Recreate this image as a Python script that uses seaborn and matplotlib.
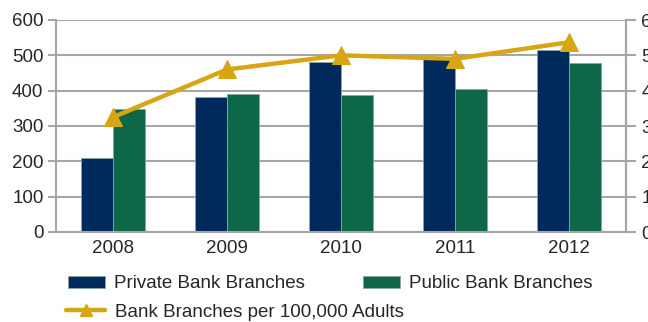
import matplotlib
matplotlib.use("Agg")
import matplotlib.pyplot as plt
from matplotlib.lines import Line2D
import numpy as np
import pandas as pd
import seaborn as sns

# data
years = ["2008", "2009", "2010", "2011", "2012"]
private_branches = [210, 382, 482, 490, 515]
public_branches = [347, 390, 388, 404, 479]
per_100k_adults = [3.25, 4.6, 5.0, 4.9, 5.37]

navy = "#002A5C"
green = "#0E6847"
gold = "#D8A515"
grid_gray = "#A6A6A6"

sns.set_style("white")
plt.rcParams["font.family"] = ["Liberation Sans", "DejaVu Sans"]
plt.rcParams["font.size"] = 13

df = pd.DataFrame({
    "year": years * 2,
    "branches": private_branches + public_branches,
    "series": ["Private Bank Branches"] * 5 + ["Public Bank Branches"] * 5,
})

fig = plt.figure(figsize=(6.48, 3.22), dpi=100)
ax = fig.add_axes([56 / 648, 1 - 232 / 322, (626 - 56) / 648, (232 - 20) / 322])

sns.barplot(data=df, x="year", y="branches", hue="series",
            palette=[navy, green], saturation=1, width=0.57, gap=0, ax=ax,
            edgecolor="#8CA59C", linewidth=0.6, legend=True)

ax.set_ylim(0, 600)
ax.set_yticks(range(0, 601, 100))
ax.set_xlim(-0.5, 4.5)
ax.set_xlabel("")
ax.set_ylabel("")
ax.yaxis.grid(True, color=grid_gray, linewidth=1.5)
ax.set_axisbelow(True)
ax.spines["top"].set_visible(False)
for side in ["left", "right", "bottom"]:
    ax.spines[side].set_color(grid_gray)
    ax.spines[side].set_linewidth(1.5)
ax.tick_params(axis="y", length=6, width=1.5, color=grid_gray, pad=3, labelsize=13.5)
ax.tick_params(axis="x", which="major", length=0, pad=6, labelsize=13.5)
ax.set_xticks(np.arange(-0.5, 5, 1), minor=True)
ax.tick_params(axis="x", which="minor", length=6, width=1.5, color=grid_gray)

ax2 = ax.twinx()
sns.lineplot(x=np.arange(len(years)), y=per_100k_adults, color=gold, linewidth=3.2,
             marker="^", markersize=13, markeredgecolor=gold, ax=ax2, legend=False)
ax2.set_ylim(0, 6)
ax2.set_yticks(range(0, 7))
ax2.tick_params(axis="y", length=7, width=1.5, color=grid_gray, pad=4, labelsize=13.5)
for side in ["top", "left", "bottom"]:
    ax2.spines[side].set_visible(False)
ax2.spines["right"].set_color(grid_gray)
ax2.spines["right"].set_linewidth(1.5)

h1, l1 = ax.get_legend_handles_labels()
ax.legend_.remove()
leg1 = fig.legend(h1, l1, ncol=2, loc="center left",
                  bbox_to_anchor=(68 / 648, 1 - 284 / 322),
                  frameon=False, fontsize=13.5, handlelength=1.95, handleheight=0.55,
                  handletextpad=0.5, columnspacing=3.1,
                  borderaxespad=0, borderpad=0)
line_handle = Line2D([], [], color=gold, linewidth=3.2, marker="^",
                     markersize=8, markeredgecolor=gold)
fig.legend([line_handle], ["Bank Branches per 100,000 Adults"], loc="center left",
           bbox_to_anchor=(66 / 648, 1 - 312 / 322), frameon=False, fontsize=13.5,
           handlelength=2.1, handletextpad=0.5, borderaxespad=0, borderpad=0)

fig.savefig("out.png", dpi=100)
